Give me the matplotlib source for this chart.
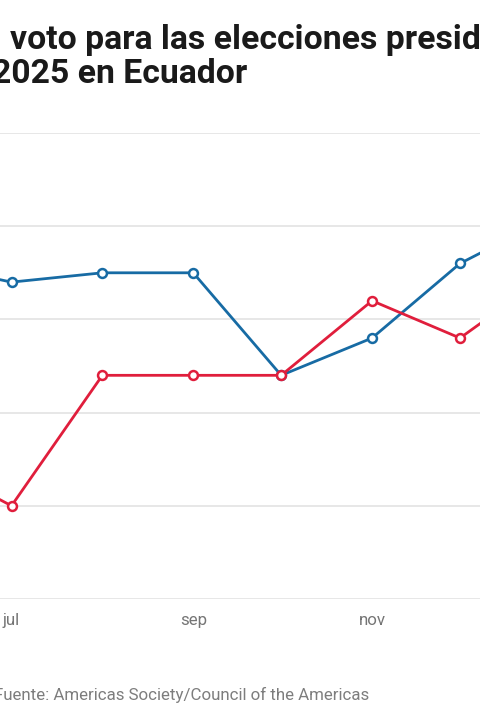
import matplotlib
matplotlib.use('Agg')
import matplotlib.pyplot as plt
import matplotlib.dates as mdates
from datetime import datetime

# Poll data (percent), one value per month
months = ['2024-06-01', '2024-07-01', '2024-08-01', '2024-09-01', '2024-10-01',
          '2024-11-01', '2024-12-01', '2025-01-01']
noboa = [36, 34, 35, 35, 24, 28, 36, 41]
gonzalez = [15, 10, 24, 24, 24, 32, 28, 35]

tick_months = ['2024-07-01', '2024-09-01', '2024-11-01']
tick_labels = ['jul', 'sep', 'nov']
y_ticks = [0, 10, 20, 30, 40, 50]

title_line1 = 'voto para las elecciones presidenciales de'
title_line2 = '2025 en Ecuador'
source = 'Fuente: Americas Society/Council of the Americas'

BLUE = '#176ba4'
RED = '#e01e3c'

plt.rcParams['font.family'] = ['Roboto', 'DejaVu Sans']

W, H = 480, 720
fig = plt.figure(figsize=(W / 100, H / 100), dpi=100)

# plot area: y=0 at pixel 599, y=50 at pixel 133
ax = fig.add_axes([0, (H - 599) / H, 1, (599 - 133) / H])

dates = [datetime.strptime(m, '%Y-%m-%d') for m in months]
ax.plot(dates, noboa, color=BLUE, lw=2.0, marker='o', ms=6.4, mfc='white',
        mec=BLUE, mew=1.8, zorder=3, solid_joinstyle='round')
ax.plot(dates, gonzalez, color=RED, lw=2.0, marker='o', ms=6.4, mfc='white',
        mec=RED, mew=1.8, zorder=3, solid_joinstyle='round')

# x scale: jul 1 at pixel ~11.5, ~2.93 px per day
px_per_day = (460 - 11.5) / 153
left = mdates.date2num(datetime(2024, 7, 1)) - 11.5 / px_per_day
ax.set_xlim(left, left + W / px_per_day)
ax.set_ylim(0, 50)

ticks = [datetime.strptime(t, '%Y-%m-%d') for t in tick_months]
ax.set_xticks(ticks)
ax.set_xticklabels(tick_labels, color='#757575', fontsize=12.2)
ax.tick_params(axis='x', length=0, pad=10)
ax.set_yticks(y_ticks)
ax.tick_params(axis='y', length=0, labelleft=False)
ax.grid(axis='y', color='#e3e3e3', lw=1.2)
ax.set_axisbelow(True)
for s in ax.spines.values():
    s.set_visible(False)

fig.text(10 / W, 1 - 49 / H, title_line1, fontsize=24.3, fontweight='bold',
         color='#1a1a1a', ha='left', va='baseline')
fig.text(-8 / W, 1 - 83 / H, title_line2, fontsize=24.3, fontweight='bold',
         color='#1a1a1a', ha='left', va='baseline')
fig.text(-6 / W, 1 - 700 / H, source, fontsize=12.2, color='#7d7d7d',
         ha='left', va='baseline')

fig.savefig('out.png', dpi=100)
